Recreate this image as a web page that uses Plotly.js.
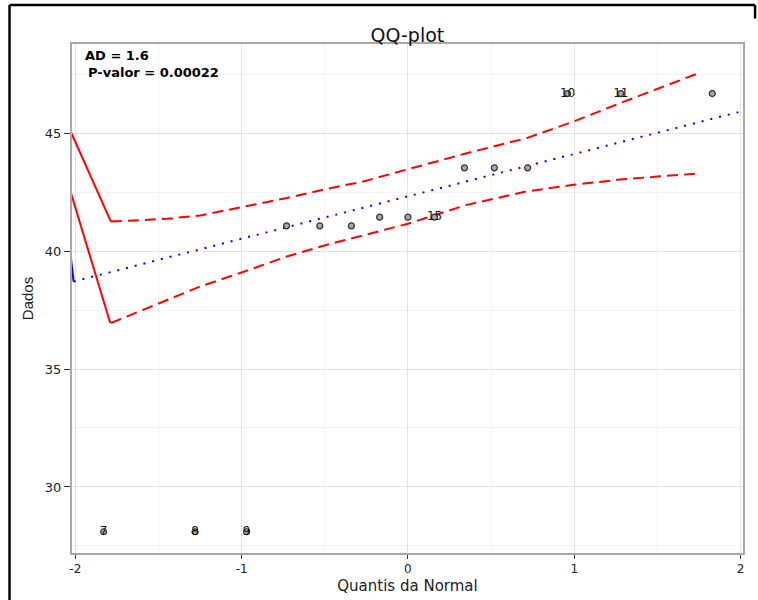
<!DOCTYPE html>
<html>
<head>
<meta charset="utf-8">
<script src="https://cdn.plot.ly/plotly-3.0.1.min.js"></script>
<style>html,body{margin:0;padding:0;background:#fff;}#chart{width:758px;height:600px;}</style>
</head>
<body>
<div id="chart"></div>
<script>
// Points (normal quantiles vs data)
const quantis = [-1.83, -1.28, -0.97, -0.73, -0.53, -0.34, -0.17, 0.0, 0.16, 0.34, 0.52, 0.72, 0.96, 1.28, 1.83];
const dados   = [28.1, 28.1, 28.1, 41.07, 41.07, 41.07, 41.44, 41.44, 41.44, 43.53, 43.53, 43.53, 46.68, 46.68, 46.68];
const rotulos = ['7', '8', '9', '', '', '', '', '', '15', '', '', '', '10', '11', ''];

// Fitted line (dotted blue) and its short solid piece at the left edge
const retaX = [-2.01, 2.02];
const retaY = [38.71, 45.95];
const retaSolX = [-2.03, -2.01];
const retaSolY = [39.9, 38.71];

// Confidence bands (dashed red)
const bandaX   = [-1.786, -1.449, -1.249, -1.009, -0.728, -0.487, -0.268, 0.0, 0.354, 0.714, 0.995, 1.275, 1.515, 1.736];
const bandaSup = [41.25, 41.37, 41.51, 41.85, 42.25, 42.64, 42.95, 43.47, 44.15, 44.79, 45.49, 46.27, 46.91, 47.51];
const bandaInf = [36.95, 37.94, 38.50, 39.07, 39.77, 40.27, 40.67, 41.16, 41.96, 42.53, 42.81, 43.03, 43.17, 43.28];

// Solid red pieces at the left edge
const supSolX = [-2.03, -1.786];
const supSolY = [45.1, 41.25];
const infSolX = [-2.03, -1.79];
const infSolY = [42.55, 36.95];

const titulo = 'QQ-plot';
const tituloX = 'Quantis da Normal';
const tituloY = 'Dados';
const textoAD = 'AD = 1.6';
const textoP = 'P-valor = 0.00022';
const xTicks = [-2, -1, 0, 1, 2];
const yTicks = [30, 35, 40, 45];

const FONT = 'DejaVu Sans, Verdana, sans-serif';
const FONT_V = 'Liberation Sans, Arial, sans-serif';
const RED = '#FF0000';
const BLUE = '#0000FF';

const traces = [
  {x: supSolX, y: supSolY, mode: 'lines', line: {color: RED, width: 2}, hoverinfo: 'skip'},
  {x: infSolX, y: infSolY, mode: 'lines', line: {color: RED, width: 2}, hoverinfo: 'skip'},
  {x: bandaX, y: bandaSup, mode: 'lines', line: {color: RED, width: 2, dash: '11px,6px'}, hoverinfo: 'skip'},
  {x: bandaX, y: bandaInf, mode: 'lines', line: {color: RED, width: 2, dash: '11px,6px'}, hoverinfo: 'skip'},
  {x: retaSolX, y: retaSolY, mode: 'lines', line: {color: BLUE, width: 2}, hoverinfo: 'skip'},
  {x: retaX, y: retaY, mode: 'lines', line: {color: BLUE, width: 2, dash: '2px,7px'}, hoverinfo: 'skip'},
  {x: quantis, y: dados, mode: 'markers+text', text: rotulos, textposition: 'middle center',
   textfont: {family: FONT, size: 12, color: '#111'},
   marker: {symbol: 'circle', size: 6, color: '#A8A8A8', line: {color: '#303030', width: 1.2}},
   cliponaxis: false}
];

const layout = {
  width: 758, height: 600,
  margin: {l: 72, r: 15, t: 44, b: 47, pad: 0},
  paper_bgcolor: '#fff', plot_bgcolor: '#fff',
  showlegend: false,
  font: {family: FONT, color: '#222'},
  title: {text: titulo, x: 0.5375, xanchor: 'center', y: 1 - 35/600, yanchor: 'middle', yref: 'container',
          font: {family: FONT, size: 19, color: '#111'}},
  xaxis: {
    range: [-2.02, 2.015], tickvals: xTicks, ticktext: xTicks.map(String),
    ticks: 'outside', ticklen: 4, tickwidth: 1, tickcolor: '#333',
    showline: true, linecolor: '#A8A8A8', linewidth: 2, mirror: true,
    showgrid: true, gridcolor: '#E2E2E2', gridwidth: 1, zeroline: false,
    minor: {dtick: 0.5, tick0: 0, showgrid: true, gridcolor: '#F3F3F3', gridwidth: 1, ticks: ''},
    tickfont: {family: FONT, size: 12, color: '#222'},
    title: {text: tituloX, font: {family: FONT, size: 15, color: '#222'}, standoff: 5}
  },
  yaxis: {
    range: [27.2, 48.78], tickvals: yTicks, ticktext: yTicks.map(String),
    ticks: 'outside', ticklen: 6, tickwidth: 1, tickcolor: '#333',
    showline: true, linecolor: '#A8A8A8', linewidth: 2, mirror: true,
    showgrid: true, gridcolor: '#E2E2E2', gridwidth: 1, zeroline: false,
    minor: {dtick: 2.5, tick0: 30, showgrid: true, gridcolor: '#F3F3F3', gridwidth: 1, ticks: ''},
    tickfont: {family: FONT, size: 13, color: '#222'},
    title: {text: tituloY, font: {family: FONT_V, size: 15, color: '#222'}, standoff: 8}
  },
  annotations: [
    {text: '<b>' + textoAD + '</b>', xref: 'paper', yref: 'paper', x: 0.0164, y: 0.978,
     xanchor: 'left', yanchor: 'middle', showarrow: false, font: {family: FONT, size: 13, color: '#000'}},
    {text: '<b>' + textoP + '</b>', xref: 'paper', yref: 'paper', x: 0.0209, y: 0.9436,
     xanchor: 'left', yanchor: 'middle', showarrow: false, font: {family: FONT, size: 13, color: '#000'}}
  ],
  shapes: [
    {type: 'line', xref: 'paper', yref: 'paper', x0: -0.0931, x1: -0.0931, y0: -0.2, y1: 1.0766,
     line: {color: '#000', width: 2.5}},
    {type: 'line', xref: 'paper', yref: 'paper', x0: -0.0931, x1: 1.018, y0: 1.0766, y1: 1.0766,
     line: {color: '#000', width: 2.5}},
    {type: 'line', xref: 'paper', yref: 'paper', x0: 1.018, x1: 1.018, y0: 1.0766, y1: 1.05,
     line: {color: '#000', width: 2.5}}
  ]
};

Plotly.newPlot('chart', traces, layout, {staticPlot: true, displayModeBar: false});
</script>
</body>
</html>
